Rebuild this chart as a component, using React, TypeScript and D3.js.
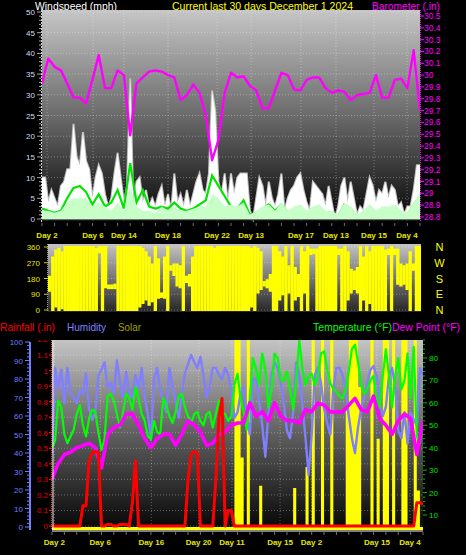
import * as d3 from "d3";

const FONT = "'Liberation Sans', Arial, Helvetica, sans-serif";

// ---------- top panel: wind (mph) + barometer (in) ----------
// gust, one reading every 6 hours over the 30 days
const windGust = [
  10, 10, 4, 7, 5, 3, 8, 9, 12, 12,
  23, 15, 13, 21, 14, 12, 5, 10, 13, 11,
  6, 3, 5, 11, 16, 10, 4, 8, 34, 3,
  9, 10, 4, 7, 3, 5, 3, 6, 8, 3,
  6, 2, 11, 4, 6, 3, 7, 3, 6, 9,
  11, 7, 6, 11, 31, 26, 9, 6, 11, 4,
  11, 6, 10, 11, 11, 11, 2, 0, 5, 10,
  8, 3, 9, 5, 3, 6, 11, 2, 5, 7,
  8, 10, 11, 7, 4, 2, 9, 8, 7, 6,
  3, 8, 4, 0, 3, 8, 10, 4, 9, 5,
  1, 3, 2, 6, 10, 8, 4, 7, 6, 9,
  5, 8, 7, 3, 4, 1, 3, 3, 7, 13, 13,
];
// wind speed (pale fill), every 12 hours
const windSpeed = [
  2, 2, 1.5, 2, 4, 5, 5, 5, 3, 4,
  3, 2, 4, 2, 8, 3, 2, 2, 1.5, 3,
  2, 3, 2, 2, 2.5, 3, 3, 6, 5, 3,
  3.5, 3, 4, 1, 2, 3, 3.5, 2, 4, 2,
  3, 3.5, 2, 3, 3.5, 2, 2, 1, 4, 3,
  1, 2, 3.5, 2, 3, 3, 3.5, 2, 1.5, 4, 6,
];
// average wind (green line), every 12 hours
const windAvg = [
  2.5, 2, 1.5, 2, 5, 7.5, 8, 6.5, 3.5, 6,
  3, 4, 7, 2.5, 13.5, 4, 7, 3, 2.5, 3,
  2.5, 4, 2.5, 2, 2.5, 3.5, 4.5, 10.5, 8, 5.5,
  3, 2.5, 4.5, 1, 1.5, 2.5, 3.5, 2, 3.5, 1.5,
  2.5, 3, 1.5, 2.5, 3, 1.5, 1.5, 0.5, 3.5, 2.5,
  0.5, 1.5, 3, 1.5, 2.5, 2.5, 3, 1.5, 1, 3.5, 5.5,
];
// barometer, every 12 hours
const barometer = [
  29.93, 30.14, 30.07, 30.04, 29.93, 29.81, 29.81, 29.76, 29.96, 30.17,
  29.89, 29.89, 30.04, 30.0, 29.49, 29.93, 29.98, 30.03, 30.04, 30.03,
  30.0, 29.98, 29.79, 29.83, 29.92, 29.85, 29.66, 29.28, 29.45, 29.85,
  30.02, 29.98, 29.99, 29.91, 29.87, 29.72, 29.72, 29.87, 30.02, 30.0,
  29.88, 29.87, 29.96, 29.98, 29.98, 29.89, 29.85, 29.87, 29.86, 29.79,
  29.83, 29.84, 29.85, 30.0, 29.81, 29.81, 29.96, 29.97, 29.89, 30.21, 29.7,
];

// ---------- middle panel: wind direction range per 6-hour bin ----------
const windDirLo = [
  110, 0, 20, 0, 10, 0, 0, 0, 0, 0,
  0, 0, 0, 0, 0, 0, 330, 0, 130, 125,
  125, 125, 0, 0, 0, 0, 0, 0, 0, 20,
  40, 60, 30, 50, 0, 70, 75, 70, 0, 230,
  200, 140, 130, 0, 160, 140, 0, 0, 0, 0,
  0, 0, 0, 0, 0, 0, 0, 0, 0, 0,
  0, 0, 0, 0, 0, 20, 0, 100, 120, 140,
  130, 110, 0, 0, 60, 90, 0, 100, 0, 60,
  80, 0, 100, 0, 320, 325, 0, 0, 0, 0,
  0, 0, 0, 320, 0, 0, 60, 100, 120, 100,
  0, 60, 0, 40, 0, 0, 0, 0, 0, 320,
  0, 320, 150, 140, 150, 120, 0, 230, 0, 0,
];
const windDirHi = [
  190, 300, 340, 350, 330, 360, 360, 360, 360, 360,
  360, 360, 360, 360, 360, 350, 360, 360, 360, 140,
  140, 145, 360, 360, 360, 360, 360, 360, 360, 360,
  350, 330, 300, 260, 360, 290, 95, 300, 360, 250,
  260, 260, 250, 360, 190, 200, 300, 360, 360, 360,
  360, 360, 360, 350, 360, 360, 360, 360, 360, 360,
  360, 360, 360, 360, 360, 350, 360, 350, 330, 160,
  170, 200, 360, 360, 330, 300, 360, 250, 360, 240,
  200, 360, 330, 360, 345, 345, 345, 360, 360, 360,
  360, 360, 360, 345, 345, 360, 330, 230, 220, 240,
  360, 300, 360, 330, 360, 360, 360, 360, 340, 345,
  360, 345, 345, 260, 250, 260, 330, 260, 360, 360,
];

// ---------- bottom panel ----------
// humidity (%), every 6 hours
const humidity = [
  40, 86, 75, 85, 67, 86, 72, 70, 67, 74,
  72, 83, 64, 58, 62, 82, 85, 89, 75, 78,
  72, 90, 78, 70, 84, 72, 70, 82, 75, 86,
  70, 61, 47, 80, 86, 74, 68, 62, 86, 76,
  68, 59, 72, 83, 88, 93, 89, 86, 92, 82,
  70, 76, 86, 86, 82, 80, 86, 82, 74, 59,
  62, 72, 76, 60, 50, 80, 80, 68, 55, 38,
  62, 82, 89, 86, 78, 66, 52, 48, 62, 89,
  82, 66, 48, 28, 50, 82, 86, 78, 64, 56,
  50, 75, 86, 86, 82, 74, 60, 48, 40, 54,
  64, 70, 78, 85, 87, 82, 68, 60, 65, 82,
  86, 76, 52, 48, 62, 45, 62, 58, 55, 86, 82,
];
// temperature (F), every 6 hours
const temperature = [
  40, 43, 61, 58, 46, 42, 45, 48, 55, 59,
  50, 45, 53, 57, 56, 47, 39, 44, 63, 64,
  61, 55, 49, 56, 64, 62, 57, 67, 62, 55,
  52, 45, 44, 52, 47, 46, 62, 59, 54, 51,
  56, 63, 64, 58, 54, 51, 55, 56, 52, 50,
  55, 56, 49, 55, 61, 56, 55, 52, 54, 68,
  73, 62, 56, 48, 62, 80, 75, 68, 82, 75,
  58, 66, 82, 80, 70, 70, 74, 66, 57, 70,
  88, 75, 68, 72, 73, 68, 72, 82, 83, 75,
  69, 66, 65, 63, 62, 66, 74, 84, 86, 78,
  68, 64, 66, 70, 72, 62, 58, 72, 84, 72,
  58, 72, 80, 66, 70, 82, 62, 85, 45, 42, 52,
];
// dew point (F), every 12 hours
const dewPoint = [
  26, 33, 37, 38, 40, 41, 42, 40, 31, 46,
  49, 50, 55, 55, 50, 44, 40, 44, 46, 46,
  41, 46, 52, 50, 47, 41, 42, 46, 47, 50,
  51, 51, 60, 54, 56, 52, 60, 54, 52, 52,
  51, 57, 56, 60, 59, 56, 56, 56, 59, 62,
  57, 56, 63, 53, 50, 46, 52, 55, 53, 37, 52,
];
// rainfall (in), every 6 hours
const rainfall = [
  0, 0, 0, 0, 0, 0, 0, 0, 0, 0,
  0.13, 0.13, 0.42, 0.47, 0.48, 0.47, 0, 0, 0.01, 0.01,
  0, 0, 0.01, 0.01, 0.01, 0, 0.15, 0.42, 0, 0,
  0, 0, 0, 0, 0, 0, 0, 0, 0, 0,
  0, 0, 0, 0, 0.3, 0.46, 0.48, 0.47, 0, 0,
  0, 0, 0, 0.3, 0.7, 0.82, 0, 0.1, 0.1, 0,
  0, 0, 0, 0, 0, 0, 0, 0, 0, 0,
  0, 0, 0, 0, 0, 0, 0, 0, 0, 0,
  0, 0, 0, 0, 0, 0, 0, 0, 0, 0,
  0, 0, 0, 0, 0, 0, 0, 0, 0, 0,
  0, 0, 0, 0, 0, 0, 0, 0, 0, 0,
  0, 0, 0, 0, 0, 0, 0, 0, 0.15, 0.15, 0.14,
];
// solar (W/m2), every 6 hours
const solar = [
  0, 0, 0, 0, 0, 0, 0, 0, 0, 0,
  0, 0, 0, 0, 0, 0, 0, 0, 0, 0,
  0, 0, 0, 0, 0, 0, 0, 0, 0, 0,
  0, 0, 0, 0, 0, 0, 0, 0, 0, 0,
  0, 0, 0, 0, 0, 0, 0, 0, 0, 0,
  0, 0, 0, 0, 0, 0, 0, 0, 0, 1000,
  1000, 150, 0, 1000, 0, 0, 0, 90, 0, 0,
  0, 0, 0, 0, 0, 0, 0, 0, 85, 0,
  0, 0, 130, 0, 1000, 0, 0, 1000, 0, 0,
  1000, 0, 0, 0, 0, 250, 1000, 1000, 1000, 300,
  0, 0, 0, 1000, 0, 190, 0, 1000, 1000, 0,
  1000, 0, 0, 1000, 1000, 0, 0, 1000, 80, 0, 0,
];

// ---------- tick labels ----------
const topDays = [0.4, 4.05, 6.5, 10.0, 13.9, 16.6, 20.55, 23.33, 26.35, 28.97];
const topDayLabels = ["Day 2", "Day 6", "Day 14", "Day 18", "Day 22", "Day 13", "Day 17", "Day 13", "Day 15", "Day 4"];
const botDays = [0.19, 3.9, 8.03, 11.86, 14.55, 18.44, 20.98, 26.28, 28.95];
const botDayLabels = ["Day 2", "Day 6", "Day 16", "Day 20", "Day 11", "Day 15", "Day 2", "Day 15", "Day 4"];
const windTicks = [0, 5, 10, 15, 20, 25, 30, 35, 40, 45, 50];
const baroTicks = [28.8, 28.9, 29, 29.1, 29.2, 29.3, 29.4, 29.5, 29.6, 29.7, 29.8, 29.9, 30, 30.1, 30.2, 30.3, 30.4, 30.5];
const dirTicks = [0, 90, 180, 270, 360];
const compass = ["N", "E", "S", "W", "N"];
const humTicks = [0, 10, 20, 30, 40, 50, 60, 70, 80, 90, 100];
const rainTicks = [0, 0.1, 0.2, 0.3, 0.4, 0.5, 0.6, 0.7, 0.8, 0.9, 1, 1.1, 1.2];
const tempTicks = [10, 20, 30, 40, 50, 60, 70, 80];

const q = (i: number) => i * 0.25; // 6-hour step in days
const hf = (i: number) => i * 0.5; // 12-hour step in days

export default function App() {
  // panel boxes
  const TOP = { x0: 42, x1: 420, y0: 10, y1: 222 };
  const MID = { x0: 48, x1: 421, y0: 244, y1: 312 };
  const BOT = { x0: 52, x1: 423, y0: 340, y1: 530 };

  const xTop = d3.scaleLinear().domain([0, 30]).range([TOP.x0, TOP.x1]);
  const yWind = d3.scaleLinear().domain([0, 50]).range([219, 12]);
  const yBaro = d3.scaleLinear().domain([28.8, 30.5]).range([217, 16]);

  const xMid = d3.scaleLinear().domain([0, 30]).range([MID.x0, MID.x1]);
  const yDir = d3.scaleLinear().domain([0, 360]).range([310, 247]);

  const xBot = d3.scaleLinear().domain([0, 30]).range([BOT.x0, BOT.x1]);
  const yHum = d3.scaleLinear().domain([0, 100]).range([527, 342]);
  const yRain = d3.scaleLinear().domain([0, 1.1]).range([526, 355]);
  const yTemp = d3.scaleLinear().domain([10, 80]).range([515, 358]);
  const ySolar = d3.scaleLinear().domain([0, 400]).range([528, 340]);

  const gustPath = d3.area<number>().x((_, i) => xTop(q(i))).y0(yWind(0)).y1((d) => yWind(d))(windGust)!;
  const avgPath = d3.line<number>().x((_, i) => xTop(hf(i))).y((d) => yWind(d))(windAvg)!;
  const spdPath = d3.area<number>().x((_, i) => xTop(hf(i))).y0(yWind(0)).y1((d) => yWind(d))(windSpeed)!;
  const baroPath = d3.line<number>().x((_, i) => xTop(hf(i))).y((d) => yBaro(d))(barometer)!;

  const solarArea = d3
    .area<number>()
    .curve(d3.curveStepAfter)
    .x((_, i) => xBot(q(i)))
    .y0(ySolar(0) + 2)
    .y1((d) => ySolar(d))(solar)!;
  const humPath = d3.line<number>().x((_, i) => xBot(q(i))).y((d) => yHum(d))(humidity)!;
  const tempPath = d3.line<number>().x((_, i) => xBot(q(i))).y((d) => yTemp(d))(temperature)!;
  const dewPath = d3.line<number>().x((_, i) => xBot(hf(i))).y((d) => yTemp(d))(dewPoint)!;
  const rainPath = d3.line<number>().x((_, i) => xBot(q(i))).y((d) => yRain(d))(rainfall)!;

  const binW = xMid(0.25) - xMid(0);
  const dots = "1 2";
  const grid = "rgba(255,255,255,0.32)";

  const dayMinor = d3.range(0, 31);

  return (
    <svg
      width={466}
      height={555}
      style={{ position: "absolute", left: 0, top: 0, background: "#000", fontFamily: FONT }}
    >
      <defs>
        <linearGradient id="bgTop" x1="0" y1="0" x2="0" y2="1">
          <stop offset="0" stopColor="#c6c6c6" />
          <stop offset="0.5" stopColor="#6a6a6a" />
          <stop offset="1" stopColor="#050505" />
        </linearGradient>
        <linearGradient id="bgMid" x1="0" y1="0" x2="0" y2="1">
          <stop offset="0" stopColor="#c4c4c4" />
          <stop offset="1" stopColor="#262626" />
        </linearGradient>
        <linearGradient id="bgBot" x1="0" y1="0" x2="0" y2="1">
          <stop offset="0" stopColor="#c4c4c4" />
          <stop offset="0.5" stopColor="#5e5e5e" />
          <stop offset="1" stopColor="#050505" />
        </linearGradient>
        <clipPath id="cTop">
          <rect x={TOP.x0} y={TOP.y0} width={TOP.x1 - TOP.x0} height={TOP.y1 - TOP.y0} />
        </clipPath>
        <clipPath id="cMid">
          <rect x={MID.x0} y={MID.y0} width={MID.x1 - MID.x0} height={MID.y1 - MID.y0} />
        </clipPath>
        <clipPath id="cBot">
          <rect x={BOT.x0} y={BOT.y0} width={BOT.x1 - BOT.x0} height={BOT.y1 - BOT.y0} />
        </clipPath>
        <clipPath id="cRainLbl">
          <rect x={0} y={BOT.y0} width={60} height={200} />
        </clipPath>
      </defs>

      {/* header */}
      <text x={35} y={9.5} fontSize={10.5} fill="#ffffff" textLength={82} lengthAdjust="spacingAndGlyphs">Windspeed (mph)</text>
      <text x={172} y={9.5} fontSize={10.5} fill="#ffff00" textLength={181} lengthAdjust="spacingAndGlyphs">Current last 30 days December 1 2024</text>
      <text x={372} y={9.5} fontSize={10.5} fill="#ff00ff" textLength={68} lengthAdjust="spacingAndGlyphs">Barometer (.in)</text>

      {/* ===== top panel ===== */}
      <rect x={TOP.x0} y={TOP.y0} width={TOP.x1 - TOP.x0} height={TOP.y1 - TOP.y0} fill="url(#bgTop)" />
      <g clipPath="url(#cTop)">
        {windTicks.map((v) => (
          <line key={v} x1={TOP.x0} x2={TOP.x1} y1={yWind(v)} y2={yWind(v)} stroke={grid} strokeDasharray={dots} />
        ))}
        {topDays.map((d, i) => (
          <line key={i} x1={xTop(d)} x2={xTop(d)} y1={TOP.y0} y2={TOP.y1} stroke={grid} strokeDasharray={dots} />
        ))}
        <path d={gustPath} fill="#ffffff" stroke="#bdbdbd" strokeWidth={2} style={{ paintOrder: "stroke" }} />
        <path d={avgPath} fill="none" stroke="#00e400" strokeWidth={2.2} />
        <path d={spdPath} fill="#c8ffc8" />
        <line x1={TOP.x0} x2={TOP.x1} y1={yWind(0) + 1} y2={yWind(0) + 1} stroke="#202020" strokeWidth={1} />
        <path d={baroPath} fill="none" stroke="#ff00ff" strokeWidth={2.4} strokeLinejoin="round" />
      </g>
      {/* left wind axis */}
      <line x1={TOP.x0 - 0.5} x2={TOP.x0 - 0.5} y1={TOP.y0} y2={TOP.y1} stroke="#d0d0d0" strokeDasharray="2 1" />
      {d3.range(0, 51).map((v) => (
        <line key={v} x1={v % 5 === 0 ? 37 : 39} x2={TOP.x0 - 1} y1={yWind(v)} y2={yWind(v)} stroke="#a8a8a8" />
      ))}
      {windTicks.map((v) => (
        <text key={v} x={35} y={yWind(v) + 3} fontSize={8} fill="#d4dcf4" textAnchor="end">{v}</text>
      ))}
      {/* right baro axis */}
      <line x1={TOP.x1 + 0.5} x2={TOP.x1 + 0.5} y1={TOP.y0} y2={TOP.y1} stroke="#ff00ff" strokeDasharray="1 1" />
      {baroTicks.map((v) => (
        <g key={v}>
          <line x1={TOP.x1} x2={TOP.x1 + 4} y1={yBaro(v)} y2={yBaro(v)} stroke="#ff00ff" />
          <text x={424} y={yBaro(v) + 3} fontSize={8.5} fill="#ff00ff">{String(+v.toFixed(1))}</text>
        </g>
      ))}
      {/* top day axis */}
      {dayMinor.map((d) => (
        <line key={d} x1={xTop(d)} x2={xTop(d)} y1={TOP.y1 + 1} y2={TOP.y1 + 4} stroke="#707070" />
      ))}
      {topDays.map((d, i) => (
        <text key={i} x={xTop(d)} y={237.5} fontSize={8} fontWeight="bold" fill="#e6e600" textAnchor="middle">
          {topDayLabels[i]}
        </text>
      ))}

      {/* ===== middle panel ===== */}
      <rect x={MID.x0} y={MID.y0} width={MID.x1 - MID.x0} height={MID.y1 - MID.y0} fill="url(#bgMid)" />
      <g clipPath="url(#cMid)">
        {dirTicks.map((v) => (
          <line key={v} x1={MID.x0} x2={MID.x1} y1={yDir(v)} y2={yDir(v)} stroke={grid} strokeDasharray={dots} />
        ))}
        {windDirLo.map((lo, i) => {
          const top = yDir(windDirHi[i]);
          const bot = yDir(lo);
          return (
            <rect key={i} x={xMid(q(i))} width={binW + 0.2} y={top - 1} height={Math.max(2, bot - top + 2)} fill="#ffff00" />
          );
        })}
      </g>
      <line x1={MID.x0 - 0.5} x2={MID.x0 - 0.5} y1={MID.y0} y2={MID.y1} stroke="#a0a0a0" strokeDasharray="1 1" />
      {dirTicks.map((v) => (
        <g key={v}>
          <line x1={MID.x0 - 4} x2={MID.x0} y1={yDir(v)} y2={yDir(v)} stroke="#d0d000" />
          <text x={40} y={yDir(v) + 3} fontSize={8} fill="#e6e600" textAnchor="end">{v}</text>
        </g>
      ))}
      {dirTicks.map((v, i) => (
        <text key={"c" + v} x={439.5} y={yDir(v) + 4} fontSize={11} fill="#ffff00" textAnchor="middle">
          {compass[i]}
        </text>
      ))}

      {/* legend row */}
      <text x={0} y={331} fontSize={10.5} fill="#ff0000" textLength={55} lengthAdjust="spacingAndGlyphs">Rainfall (.in)</text>
      <text x={67} y={331} fontSize={10.5} fill="#8080ff" textLength={39} lengthAdjust="spacingAndGlyphs">Humidity</text>
      <text x={118} y={331} fontSize={10.5} fill="#a0a000" textLength={23} lengthAdjust="spacingAndGlyphs">Solar</text>
      <text x={313} y={331} fontSize={10.5} fill="#00ff00" textLength={79} lengthAdjust="spacingAndGlyphs">Temperature (°F)</text>
      <text x={392} y={331} fontSize={10.5} fill="#ff00ff" textLength={68} lengthAdjust="spacingAndGlyphs">Dew Point (°F)</text>

      {/* ===== bottom panel ===== */}
      <rect x={BOT.x0} y={BOT.y0} width={BOT.x1 - BOT.x0} height={BOT.y1 - BOT.y0} fill="url(#bgBot)" />
      <g clipPath="url(#cBot)">
        {rainTicks.map((v) => (
          <line key={v} x1={BOT.x0} x2={BOT.x1} y1={yRain(v)} y2={yRain(v)} stroke={grid} strokeDasharray={dots} />
        ))}
        {botDays.map((d, i) => (
          <line key={i} x1={xBot(d)} x2={xBot(d)} y1={BOT.y0} y2={BOT.y1} stroke={grid} strokeDasharray={dots} />
        ))}
        <path d={solarArea} fill="#ffff00" />
        <rect x={BOT.x0} y={ySolar(0) - 1} width={BOT.x1 - BOT.x0} height={3} fill="#ffff00" />
        <path d={humPath} fill="none" stroke="#7f7fff" strokeWidth={2.4} strokeLinejoin="round" />
        <path d={tempPath} fill="none" stroke="#00ff00" strokeWidth={2.2} strokeLinejoin="round" />
        <path d={dewPath} fill="none" stroke="#ff00ff" strokeWidth={3.6} strokeLinejoin="round" />
        <path d={rainPath} fill="none" stroke="#ff0000" strokeWidth={3} strokeLinejoin="round" />
      </g>
      <line x1={BOT.x0 + 1} x2={BOT.x0 + 1} y1={BOT.y0} y2={BOT.y1} stroke="#e8e8e8" />
      <rect x={BOT.x0} y={BOT.y1} width={BOT.x1 - BOT.x0} height={2} fill="#808080" />
      {/* humidity axis */}
      <line x1={30} x2={30} y1={yHum(100)} y2={BOT.y1} stroke="#7080ff" strokeWidth={2} />
      {d3.range(0, 101, 2).map((v) => (
        <line key={v} x1={v % 10 === 0 ? 25 : 27} x2={30} y1={yHum(v)} y2={yHum(v)} stroke="#7080ff" />
      ))}
      {humTicks.map((v) => (
        <text key={v} x={23} y={yHum(v) + 3} fontSize={8} fill="#6f7cff" textAnchor="end">{v}</text>
      ))}
      {/* rain axis */}
      <line x1={BOT.x0 - 0.5} x2={BOT.x0 - 0.5} y1={BOT.y0} y2={BOT.y1} stroke="#ff3030" strokeDasharray="1 1" />
      <g clipPath="url(#cRainLbl)">
        {rainTicks.map((v) => (
          <g key={v}>
            <line x1={BOT.x0 - 3} x2={BOT.x0} y1={yRain(v)} y2={yRain(v)} stroke="#ff2020" />
            <text x={48} y={yRain(v) + 3} fontSize={8} fill="#e00000" textAnchor="end">{String(+v.toFixed(1))}</text>
          </g>
        ))}
      </g>
      {/* temperature axis */}
      {d3.range(10, 89, 2).map((v) => (
        <line key={v} x1={BOT.x1} x2={BOT.x1 + (v % 10 === 0 ? 4 : 2)} y1={yTemp(v)} y2={yTemp(v)} stroke="#00c000" />
      ))}
      {tempTicks.map((v) => (
        <text key={v} x={429} y={yTemp(v) + 3} fontSize={8} fill="#00e000">{v}</text>
      ))}
      {/* bottom day axis */}
      {dayMinor.map((d) => (
        <line key={d} x1={xBot(d)} x2={xBot(d)} y1={BOT.y1 + 2} y2={BOT.y1 + 5} stroke="#707070" />
      ))}
      {botDays.map((d, i) => (
        <text key={i} x={xBot(d)} y={544.5} fontSize={8} fontWeight="bold" fill="#e6e600" textAnchor="middle">
          {botDayLabels[i]}
        </text>
      ))}
    </svg>
  );
}
